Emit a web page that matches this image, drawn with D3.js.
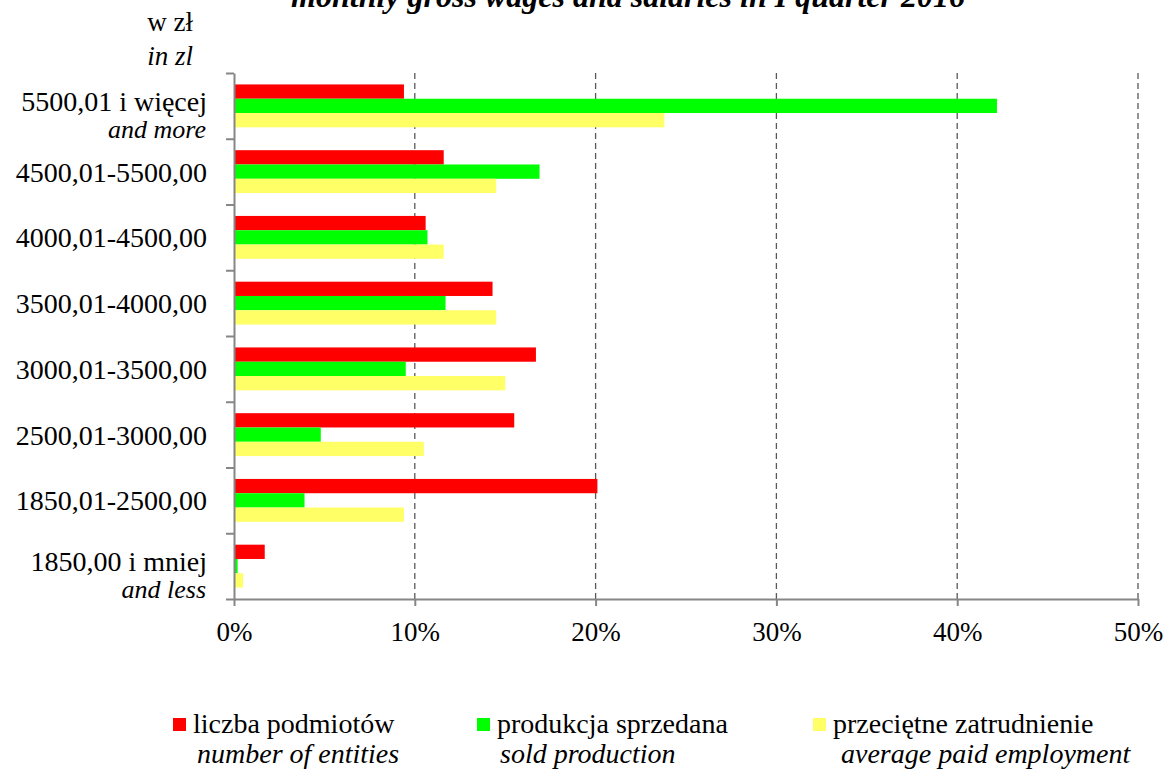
<!DOCTYPE html>
<html>
<head>
<meta charset="utf-8">
<script src="https://cdn.jsdelivr.net/npm/d3@7"></script>
<style>
  body { margin: 0; background: #fff; }
  text { font-family: "Liberation Serif", "Times New Roman", "DejaVu Serif", serif; fill: #000; }
</style>
</head>
<body>
<div id="chart"></div>
<script>
// wage classes, top to bottom
var categories = ["5500,01 i więcej", "4500,01-5500,00", "4000,01-4500,00", "3500,01-4000,00",
                  "3000,01-3500,00", "2500,01-3000,00", "1850,01-2500,00", "1850,00 i mniej"];
var categoriesEn = ["and more", "", "", "", "", "", "", "and less"];

var seriesPl = ["liczba podmiotów", "produkcja sprzedana", "przeciętne zatrudnienie"];
var seriesEn = ["number of entities", "sold production", "average paid employment"];
var colors = ["#ff0000", "#00ff00", "#ffff66"];

// shares in %
var entities   = [9.4, 11.6, 10.6, 14.3, 16.7, 15.5, 20.1, 1.7];
var production = [42.2, 16.9, 10.7, 11.7, 9.5, 4.8, 3.9, 0.2];
var employment = [23.8, 14.5, 11.6, 14.5, 15.0, 10.5, 9.4, 0.5];

var xTicks = [0, 10, 20, 30, 40, 50];

var W = 1175, H = 769;
var svg = d3.select("#chart").append("svg")
    .attr("width", W)
    .attr("height", H);

var x = d3.scaleLinear().domain([0, 50]).range([234, 1138]);
var y = d3.scaleBand().domain(categories).range([73, 599]);
var yInner = d3.scaleBand().domain([0, 1, 2]).range([0, y.bandwidth()]).paddingOuter(0.8);
var yEdge = d3.scaleLinear().domain([0, categories.length]).range([73, 599]);

// title (cut at the top in the original)
svg.append("text")
    .attr("x", 628)
    .attr("y", 7)
    .attr("text-anchor", "middle")
    .style("font-size", "32px")
    .style("font-weight", "bold")
    .style("font-style", "italic")
    .text("monthly gross wages and salaries in I quarter 2016");

// unit
svg.append("text").attr("x", 193).attr("y", 31).attr("text-anchor", "end")
    .style("font-size", "27px").text("w zł");
svg.append("text").attr("x", 193).attr("y", 65).attr("text-anchor", "end")
    .style("font-size", "27px").style("font-style", "italic").text("in zl");

// gridlines
svg.append("g")
    .selectAll("line")
    .data(xTicks.slice(1))
    .enter()
    .append("line")
    .attr("x1", function(d) { return x(d); })
    .attr("x2", function(d) { return x(d); })
    .attr("y1", 73)
    .attr("y2", 599)
    .attr("stroke", "#595959")
    .attr("stroke-width", 1.3)
    .attr("stroke-dasharray", "6,4");

// bars
var data = [entities, production, employment];
data.forEach(function(vals, s) {
    svg.append("g")
        .selectAll("rect")
        .data(vals)
        .enter()
        .append("rect")
        .attr("x", x(0))
        .attr("y", function(d, i) { return y(categories[i]) + yInner(s); })
        .attr("width", function(d) { return x(d) - x(0); })
        .attr("height", yInner.bandwidth())
        .attr("fill", colors[s]);
});

// x axis
var xAxis = svg.append("g")
    .attr("transform", "translate(0,599)")
    .call(d3.axisBottom(x).tickValues(xTicks).tickSize(7).tickSizeOuter(0)
        .tickFormat(function(d) { return d + "%"; }));
xAxis.selectAll("line, path").attr("stroke", "#868686").attr("stroke-width", 2);
xAxis.selectAll("text")
    .attr("y", 23)
    .attr("dy", "0.71em")
    .style("font-size", "27px")
    .style("font-family", "'Liberation Serif', 'Times New Roman', serif");

// y axis (ticks between categories)
var yAxis = svg.append("g")
    .attr("transform", "translate(234,0)")
    .call(d3.axisLeft(yEdge).tickValues(d3.range(categories.length + 1)).tickSize(8)
        .tickSizeOuter(0).tickFormat(""));
yAxis.selectAll("line, path").attr("stroke", "#868686").attr("stroke-width", 2);

// category labels
var labels = svg.append("g").selectAll("g")
    .data(categories)
    .enter()
    .append("g");

labels.append("text")
    .attr("x", 207)
    .attr("y", function(d, i) {
        var c = y(d) + y.bandwidth() / 2;
        return categoriesEn[i] ? c + 5 : c + 10;
    })
    .attr("text-anchor", "end")
    .style("font-size", "28px")
    .text(function(d) { return d; });

labels.append("text")
    .attr("x", 206)
    .attr("y", function(d, i) { return y(d) + y.bandwidth() / 2 + 32; })
    .attr("text-anchor", "end")
    .style("font-size", "26px")
    .style("font-style", "italic")
    .text(function(d, i) { return categoriesEn[i]; });

// legend
var legX = [173, 477, 813];
var legEnX = [197, 500, 841];
var legend = svg.append("g").selectAll("g")
    .data(seriesPl)
    .enter()
    .append("g");

legend.append("rect")
    .attr("x", function(d, i) { return legX[i]; })
    .attr("y", 718)
    .attr("width", 13)
    .attr("height", 13)
    .attr("fill", function(d, i) { return colors[i]; });

legend.append("text")
    .attr("x", function(d, i) { return legX[i] + 20; })
    .attr("y", 733)
    .style("font-size", "28px")
    .text(function(d) { return d; });

legend.append("text")
    .attr("x", function(d, i) { return legEnX[i]; })
    .attr("y", 763)
    .style("font-size", "28px")
    .style("font-style", "italic")
    .text(function(d, i) { return seriesEn[i]; });
</script>
</body>
</html>
